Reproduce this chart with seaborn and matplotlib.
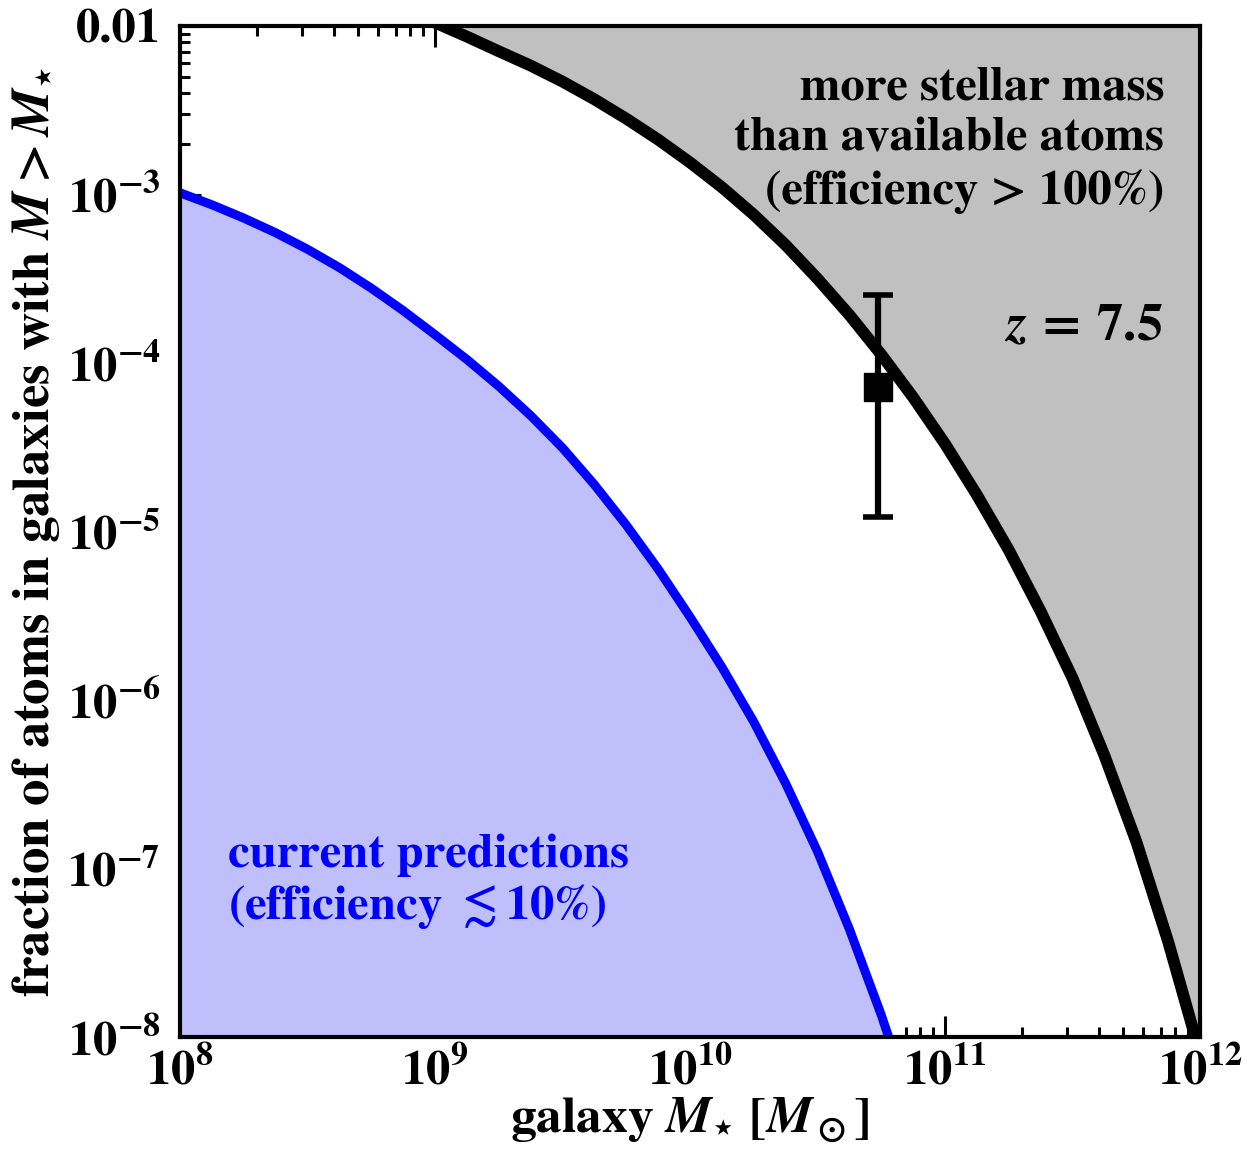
import numpy as np
import pandas as pd
import matplotlib
matplotlib.use("Agg")
import matplotlib.pyplot as plt
import seaborn as sns

# log10 of stellar mass and log10 of atom fraction
blue_logm = [8.0, 8.125, 8.25, 8.375, 8.5, 8.625, 8.75, 8.875, 9.0, 9.125, 9.25, 9.375,
             9.5, 9.625, 9.75, 9.875, 10.0, 10.125, 10.25, 10.375, 10.5, 10.625,
             10.75, 10.79]
blue_logf = [-2.99, -3.061, -3.14, -3.227, -3.325, -3.434, -3.556, -3.689, -3.832,
             -3.979, -4.138, -4.312, -4.504, -4.722, -4.962, -5.223, -5.507, -5.805,
             -6.13, -6.495, -6.90, -7.36, -7.87, -8.05]

black_logm = [9.0, 9.125, 9.25, 9.375, 9.5, 9.625, 9.75, 9.875, 10.0, 10.125, 10.25,
              10.375, 10.5, 10.625, 10.75, 10.875, 11.0, 11.125, 11.25, 11.375, 11.5,
              11.625, 11.75, 11.875, 12.0]
black_logf = [-1.98, -2.063, -2.15, -2.235, -2.33, -2.435, -2.55, -2.674, -2.81,
              -2.957, -3.12, -3.30, -3.50, -3.715, -3.95, -4.204, -4.48, -4.783,
              -5.11, -5.474, -5.87, -6.329, -6.84, -7.434, -8.10]

# data point at z = 7.5
pt_mass = [5.46e10]
pt_frac = [7.2e-5]
pt_lo = [1.22e-5]
pt_hi = [2.54e-4]

xticks = [1e8, 1e9, 1e10, 1e11, 1e12]
xtick_labels = [r"$10^{8}$", r"$10^{9}$", r"$10^{10}$", r"$10^{11}$", r"$10^{12}$"]
yticks = [1e-8, 1e-7, 1e-6, 1e-5, 1e-4, 1e-3, 1e-2]
ytick_labels = [r"$10^{-8}$", r"$10^{-7}$", r"$10^{-6}$", r"$10^{-5}$",
                r"$10^{-4}$", r"$10^{-3}$", "0.01"]

sns.set_theme(style="ticks")
plt.rcParams["font.family"] = ["STIXGeneral", "DejaVu Serif"]
plt.rcParams["font.weight"] = "bold"
plt.rcParams["mathtext.fontset"] = "custom"
plt.rcParams["mathtext.rm"] = "STIXGeneral:bold"
plt.rcParams["mathtext.bf"] = "STIXGeneral:bold"
plt.rcParams["mathtext.it"] = "STIXGeneral:italic:bold"
plt.rcParams["mathtext.sf"] = "DejaVu Sans:bold"
plt.rcParams["mathtext.fallback"] = "stix"
for key in ["text.color", "axes.labelcolor", "xtick.color", "ytick.color", "axes.edgecolor"]:
    plt.rcParams[key] = "black"

blue = pd.DataFrame({"mass": 10 ** np.array(blue_logm), "frac": 10 ** np.array(blue_logf)})
black = pd.DataFrame({"mass": 10 ** np.array(black_logm), "frac": 10 ** np.array(black_logf)})

fig = plt.figure(figsize=(12.52, 11.66), dpi=100)
ax = fig.add_axes([0.1438, 0.1106, 0.8147, 0.8671])
ax.set_xscale("log")
ax.set_yscale("log")

ax.fill_between(black["mass"], black["frac"], 1.0, color="#c0c0c0", lw=0, zorder=1)
ax.fill_between(blue["mass"], 1e-12, blue["frac"], color="#bfbffc", lw=0, zorder=1)

sns.lineplot(data=black, x="mass", y="frac", color="black", lw=8.5, ax=ax,
             sort=False, estimator=None, zorder=3)
sns.lineplot(data=blue, x="mass", y="frac", color="#0000ff", lw=6.5, ax=ax,
             sort=False, estimator=None, zorder=3)

yerr = [[pt_frac[0] - pt_lo[0]], [pt_hi[0] - pt_frac[0]]]
ax.errorbar(pt_mass, pt_frac, yerr=yerr, fmt="s", color="black", ms=20,
            elinewidth=4.5, capsize=11, capthick=4, zorder=4)

ax.set_xlim(1e8, 1e12)
ax.set_ylim(1e-8, 1e-2)
ax.set_xticks(xticks)
ax.set_xticklabels(xtick_labels)
ax.set_yticks(yticks)
ax.set_yticklabels(ytick_labels)

ax.tick_params(which="both", direction="in", top=True, right=True,
               labelsize=35, width=2.2, color="black")
ax.tick_params(which="major", length=15)
ax.tick_params(axis="x", which="major", pad=8)
ax.tick_params(axis="y", which="major", pad=14)
ax.tick_params(which="minor", length=7)
for s in ax.spines.values():
    s.set_linewidth(3)
    s.set_zorder(5)

ax.set_xlabel(r"galaxy $M_{\mathsf{\star}}$ [$M_\odot$]", fontsize=37, fontweight="bold")
ax.set_ylabel(r"fraction of atoms in galaxies with $M > M_{\mathsf{\star}}$", fontsize=38,
              fontweight="bold")
ax.xaxis.set_label_coords(0.5, -0.058)
ax.yaxis.set_label_coords(-0.116, 0.5)

ax.text(0.965, 0.887, "more stellar mass\nthan available atoms\n(efficiency > 100%)",
        transform=ax.transAxes, ha="right", va="center", fontsize=35, fontweight="bold",
        linespacing=1.25, zorder=6)
ax.text(0.963, 0.701, r"$z\,=\,7.5$", transform=ax.transAxes, ha="right", va="center",
        fontsize=38, fontweight="bold", zorder=6)
ax.text(0.047, 0.153, "current predictions\n(efficiency $\\lesssim$10%)",
        transform=ax.transAxes, ha="left", va="center", fontsize=35, fontweight="bold",
        color="#0000ff", linespacing=1.13, zorder=6)

fig.savefig("out.png", dpi=100)
